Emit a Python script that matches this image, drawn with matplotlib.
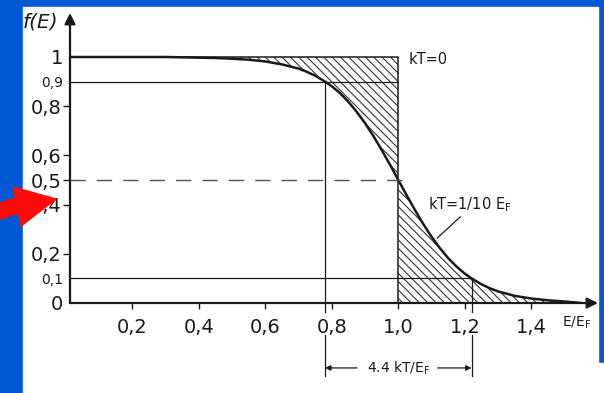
import numpy as np
import matplotlib.pyplot as plt
from matplotlib.patches import Rectangle, Polygon

W, H = 604, 393

# curve kT = 1/10 EF
e_pts = [0.0135, 0.3, 0.45, 0.5, 0.55, 0.6, 0.65, 0.7, 0.725, 0.75, 0.78, 0.8, 0.825,
         0.85, 0.875, 0.9, 0.925, 0.95, 0.975, 1.0, 1.025, 1.05, 1.075, 1.1, 1.125,
         1.15, 1.175, 1.2, 1.22, 1.25, 1.275, 1.3, 1.35, 1.4, 1.45, 1.5, 1.55]
f_pts = [1.0, 1.0, 0.996, 0.993, 0.989, 0.982, 0.97, 0.953, 0.94, 0.924, 0.9, 0.881, 0.853,
         0.818, 0.777, 0.731, 0.679, 0.622, 0.562, 0.5, 0.438, 0.378, 0.321, 0.269, 0.223,
         0.182, 0.148, 0.119, 0.1, 0.076, 0.06, 0.047, 0.029, 0.018, 0.011, 0.006, 0.0]

x_ticks = [0.2, 0.4, 0.6, 0.8, 1.0, 1.2, 1.4]
x_labels = ['0,2', '0,4', '0,6', '0,8', '1,0', '1,2', '1,4']
y_major = [0.8, 0.6, 0.5, 0.4, 0.2]
y_major_lab = ['0,8', '0,6', '0,5', '0,4', '0,2']
y_minor = [1.0, 0.9, 0.1, 0.0]
y_minor_lab = ['1', '0,9', '0,1', '0']
y_minor_size = [14, 10, 10, 14]

x90, x10 = 0.78, 1.22   # where f = 0.9 and f = 0.1
x_left, x_right = 0.0135, 1.6
y_top = 290 / 246

plt.rcParams['hatch.linewidth'] = 0.8

fig = plt.figure(figsize=(W / 100, H / 100), dpi=100, facecolor='#0058d4')
fig.patches.append(Rectangle((23 / W, 0), (598 - 23) / W, (H - 7) / H,
                             transform=fig.transFigure, color='white', zorder=-2))
fig.patches.append(Rectangle((597 / W, 0), 7 / W, 30 / H,
                             transform=fig.transFigure, color='white', zorder=-2))

ax = fig.add_axes([70 / W, (H - 303) / H, (598 - 70) / W, 290 / H])
ax.set_facecolor('none')
for s in ax.spines.values():
    s.set_visible(False)
ax.set_xlim(x_left, x_right)
ax.set_ylim(0, y_top)

e = np.array(e_pts)
f = np.array(f_pts)
ink = '#1a1a1a'

# hatched areas between step and curve
lo = e <= 1.0
hi = e >= 1.0
ax.fill_between(e[lo], f[lo], 1.0, facecolor='none', edgecolor='#333333',
                hatch='\\' * 4, linewidth=0)
ax.fill_between(e[hi], 0, f[hi], facecolor='none', edgecolor='#333333',
                hatch='\\' * 4, linewidth=0)

# kT = 0 step
ax.plot([x_left, 1.0, 1.0], [1.0, 1.0, 0.0], color=ink, lw=1.1)
# fermi curve
ax.plot(e, f, color=ink, lw=1.8)

# helper lines
ax.plot([x_left, 1.0], [0.9, 0.9], color=ink, lw=0.9)
ax.plot([x_left, x10], [0.1, 0.1], color=ink, lw=0.9)
ax.plot([x_left, 1.042], [0.5, 0.5], color='#555555', lw=1.0, dashes=(11, 8))
ax.plot([x90, x90], [0.9, -0.035], color=ink, lw=0.9, clip_on=False)
ax.plot([x10, x10], [0.1, -0.035], color=ink, lw=0.9, clip_on=False)
ax.plot([x90, x90], [-0.13, -0.295], color=ink, lw=0.9, clip_on=False)
ax.plot([x10, x10], [-0.13, -0.295], color=ink, lw=0.9, clip_on=False)

# axes with arrows
ax.annotate('', xy=(x_right, 0), xytext=(x_left, 0), annotation_clip=False,
            arrowprops=dict(arrowstyle='-|>', lw=1.6, color=ink, mutation_scale=16,
                            shrinkA=0, shrinkB=0))
ax.annotate('', xy=(x_left, y_top), xytext=(x_left, 0), annotation_clip=False,
            arrowprops=dict(arrowstyle='-|>', lw=1.6, color=ink, mutation_scale=16,
                            shrinkA=0, shrinkB=0))

font = 'DejaVu Sans'
ax.set_xticks(x_ticks)
ax.set_xticklabels(x_labels, fontsize=14, family=font, color=ink)
ax.tick_params(axis='x', direction='out', length=4, width=1, pad=7, color=ink)
ax.set_yticks(y_major)
ax.set_yticklabels(y_major_lab, fontsize=14, family=font, color=ink)
ax.set_yticks(y_minor, minor=True)
ax.set_yticklabels(y_minor_lab, minor=True, family=font, color=ink)
for lab, sz in zip(ax.get_yticklabels(minor=True), y_minor_size):
    lab.set_fontsize(sz)
ax.tick_params(axis='y', which='major', direction='out', length=5, width=1, pad=1, color=ink)
ax.tick_params(axis='y', which='minor', length=0, pad=5)

# labels
ax.text(-0.128, 1.142, 'f(E)', fontsize=14.5, style='italic', family=font,
        ha='left', va='center', color=ink, clip_on=False)
ax.text(1.493, -0.081, r'E/E$_\mathregular{F}$', fontsize=10, family=font,
        ha='left', va='center', color=ink, clip_on=False)
ax.text(1.03, 0.988, 'kT=0', fontsize=10.5, family=font, ha='left', va='center', color=ink)
ax.text(1.09, 0.398, r'kT=1/10 E$_\mathregular{F}$', fontsize=10.5, family=font,
        ha='left', va='center', color=ink)
ax.plot([1.186, 1.117], [0.350, 0.264], color=ink, lw=0.9)

# dimension 4.4 kT/EF
ax.text(1.0, -0.264, r'4.4 kT/E$_\mathregular{F}$', fontsize=10, family=font,
        ha='center', va='center', color=ink, clip_on=False)
ax.annotate('', xy=(x90, -0.264), xytext=(0.876, -0.264), annotation_clip=False,
            arrowprops=dict(arrowstyle='-|>', lw=0.9, color=ink, mutation_scale=8,
                            shrinkA=0, shrinkB=0))
ax.annotate('', xy=(x10, -0.264), xytext=(1.118, -0.264), annotation_clip=False,
            arrowprops=dict(arrowstyle='-|>', lw=0.9, color=ink, mutation_scale=8,
                            shrinkA=0, shrinkB=0))

# red arrow on the slide
arrow_px = [(0, 203), (15, 198), (13, 187), (56, 199), (21, 226), (18, 213), (0, 219)]
fig.patches.append(Polygon([(px / W, 1 - py / H) for px, py in arrow_px], closed=True,
                           transform=fig.transFigure, color='#ff0a0a', zorder=5))

fig.savefig('out.png', dpi=100, facecolor=fig.get_facecolor())
